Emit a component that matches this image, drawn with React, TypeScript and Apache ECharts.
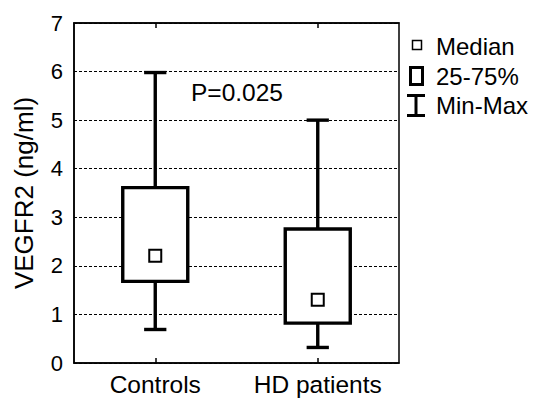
import React, { useEffect, useRef } from "react";
import * as echarts from "echarts";

const categories = ["Controls", "HD patients"];
const minValues = [0.69, 0.32];
const q1Values = [1.68, 0.82];
const medianValues = [2.21, 1.3];
const q3Values = [3.61, 2.76];
const maxValues = [5.98, 5.0];
const yTicks = [0, 1, 2, 3, 4, 5, 6, 7];
const pText = "P=0.025";
const legendLabels = ["Median", "25-75%", "Min-Max"];

const FONT = 'Arial, "Liberation Sans", Helvetica, sans-serif';

export default function App() {
  const ref = useRef<HTMLDivElement>(null);
  useEffect(() => {
    if (!ref.current) return;
    const chart = echarts.init(ref.current, null, { renderer: "svg" });
    const data = categories.map((_, i) => [
      i,
      minValues[i],
      q1Values[i],
      medianValues[i],
      q3Values[i],
      maxValues[i],
    ]);
    const option: any = {
      animation: false,
      backgroundColor: "#fff",
      textStyle: { fontFamily: FONT },
      grid: {
        left: 74,
        right: 134,
        top: 23,
        bottom: 37,
        show: true,
        borderColor: "#000",
        borderWidth: 1.5,
        backgroundColor: "transparent",
      },
      xAxis: [
        {
          type: "category",
          data: categories,
          position: "bottom",
          axisLine: { show: true, lineStyle: { color: "#000", width: 1.5 } },
          axisTick: {
            show: true,
            inside: true,
            alignWithLabel: true,
            interval: 0,
            length: 5,
            lineStyle: { color: "#000", width: 1.5 },
          },
          axisLabel: {
            color: "#000",
            fontSize: 24.5,
            fontFamily: FONT,
            margin: 9,
            interval: 0,
            hideOverlap: false,
          },
          splitLine: { show: false },
        },
        {
          type: "category",
          data: categories,
          position: "top",
          axisLine: { show: true, lineStyle: { color: "#000", width: 1.5 } },
          axisTick: {
            show: true,
            inside: true,
            alignWithLabel: true,
            interval: 0,
            length: 5,
            lineStyle: { color: "#000", width: 1.5 },
          },
          axisLabel: { show: false },
          splitLine: { show: false },
        },
      ],
      yAxis: {
        type: "value",
        min: yTicks[0],
        max: yTicks[yTicks.length - 1],
        interval: 1,
        name: "VEGFR2 (ng/ml)",
        nameLocation: "middle",
        nameGap: 37,
        nameTextStyle: { color: "#000", fontSize: 26, fontFamily: FONT },
        axisLine: { show: true, lineStyle: { color: "#000", width: 1.5 } },
        axisTick: { show: false },
        axisLabel: {
          color: "#000",
          fontSize: 22,
          fontFamily: FONT,
          margin: 11,
        },
        splitLine: {
          show: true,
          lineStyle: { color: "#000", width: 1, type: [3, 2] },
        },
      },
      series: [
        {
          type: "custom",
          xAxisIndex: 0,
          yAxisIndex: 0,
          data,
          encode: { x: 0, y: [1, 2, 3, 4, 5] },
          renderItem: (params: any, api: any) => {
            const idx = api.value(0);
            const band = api.size([1, 0])[0];
            const boxW = band * 0.4;
            const capW = band * 0.137;
            const pMin = api.coord([idx, api.value(1)]);
            const pQ1 = api.coord([idx, api.value(2)]);
            const pMed = api.coord([idx, api.value(3)]);
            const pQ3 = api.coord([idx, api.value(4)]);
            const pMax = api.coord([idx, api.value(5)]);
            const cx = pMin[0];
            const stroke = { stroke: "#000", lineWidth: 3.4, fill: "none" };
            const sq = 12;
            return {
              type: "group",
              children: [
                {
                  type: "line",
                  shape: { x1: cx, y1: pQ3[1], x2: cx, y2: pMax[1] },
                  style: stroke,
                },
                {
                  type: "line",
                  shape: { x1: cx, y1: pQ1[1], x2: cx, y2: pMin[1] },
                  style: stroke,
                },
                {
                  type: "line",
                  shape: { x1: cx - capW / 2, y1: pMax[1], x2: cx + capW / 2, y2: pMax[1] },
                  style: stroke,
                },
                {
                  type: "line",
                  shape: { x1: cx - capW / 2, y1: pMin[1], x2: cx + capW / 2, y2: pMin[1] },
                  style: stroke,
                },
                {
                  type: "rect",
                  shape: { x: cx - boxW / 2, y: pQ3[1], width: boxW, height: pQ1[1] - pQ3[1] },
                  style: { stroke: "#000", lineWidth: 3.4, fill: "#fff" },
                },
                {
                  type: "rect",
                  shape: { x: cx - sq / 2, y: pMed[1] - sq / 2, width: sq, height: sq },
                  style: { stroke: "#000", lineWidth: 2, fill: "#fff" },
                },
              ],
            };
          },
        },
      ],
      graphic: [
        {
          type: "text",
          x: 191,
          y: 92,
          style: {
            text: pText,
            fontSize: 24.5,
            fontFamily: FONT,
            fill: "#000",
            verticalAlign: "middle",
          },
        },
        {
          type: "rect",
          shape: { x: 412.5, y: 40.5, width: 9, height: 9 },
          style: { stroke: "#000", lineWidth: 1.5, fill: "#fff" },
        },
        {
          type: "text",
          x: 436,
          y: 46,
          style: {
            text: legendLabels[0],
            fontSize: 24,
            fontFamily: FONT,
            fill: "#000",
            verticalAlign: "middle",
          },
        },
        {
          type: "rect",
          shape: { x: 410.5, y: 67.5, width: 12, height: 17 },
          style: { stroke: "#000", lineWidth: 3, fill: "#fff" },
        },
        {
          type: "text",
          x: 436,
          y: 76,
          style: {
            text: legendLabels[1],
            fontSize: 24,
            fontFamily: FONT,
            fill: "#000",
            verticalAlign: "middle",
          },
        },
        {
          type: "line",
          shape: { x1: 416, y1: 95, x2: 416, y2: 115.5 },
          style: { stroke: "#000", lineWidth: 3 },
        },
        {
          type: "line",
          shape: { x1: 407, y1: 95.5, x2: 425, y2: 95.5 },
          style: { stroke: "#000", lineWidth: 3 },
        },
        {
          type: "line",
          shape: { x1: 407, y1: 115.5, x2: 425, y2: 115.5 },
          style: { stroke: "#000", lineWidth: 3 },
        },
        {
          type: "text",
          x: 436,
          y: 105,
          style: {
            text: legendLabels[2],
            fontSize: 24,
            fontFamily: FONT,
            fill: "#000",
            verticalAlign: "middle",
          },
        },
      ],
    };
    chart.setOption(option);
    return () => chart.dispose();
  }, []);
  return (
    <div
      ref={ref}
      style={{ width: 533, height: 400, position: "absolute", left: 0, top: 0 }}
    />
  );
}
